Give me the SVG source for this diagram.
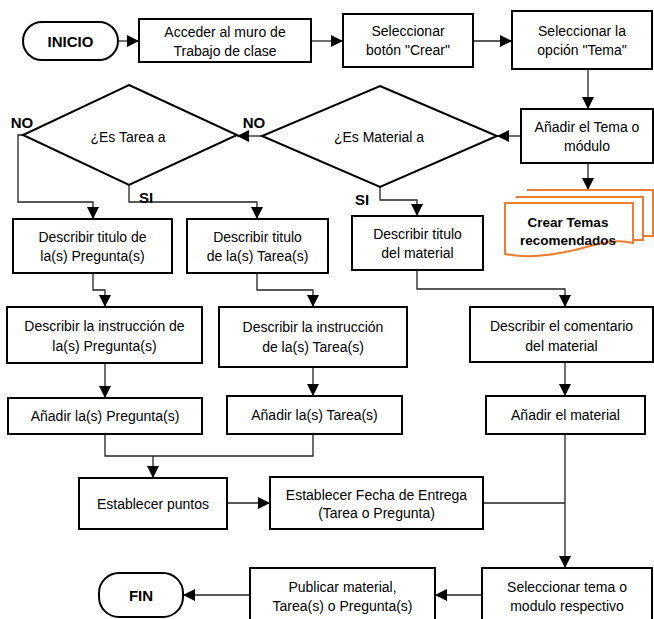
<svg xmlns="http://www.w3.org/2000/svg" width="654" height="619" viewBox="0 0 654 619">
<defs>
<marker id="ah" markerUnits="userSpaceOnUse" markerWidth="12" markerHeight="12" viewBox="0 0 10 10" refX="10" refY="5" orient="auto">
<path d="M0,0 L10,5 L0,10 Z" fill="#000"/>
</marker>
<style>
.box{fill:#fff;stroke:#000;stroke-width:2}
.doc{fill:#fff;stroke:#ED7D31;stroke-width:2}
.t{font-family:"Liberation Sans",Arial,sans-serif;font-size:14px;fill:#000;text-anchor:middle;dominant-baseline:central}
.b{font-weight:bold;font-size:13.5px}
.big{font-size:15px}
.c{fill:none;stroke:#222;stroke-width:1.3}
.a{marker-end:url(#ah)}
</style>
</defs>
<rect width="654" height="619" fill="#fff"/>
<g id="connectors">
<path class="c a" d="M118,41 H139"/>
<path class="c a" d="M311,41 H343"/>
<path class="c a" d="M473,41 H512"/>
<path class="c a" d="M588,69 V109"/>
<path class="c a" d="M521,136 H497"/>
<path class="c a" d="M262,136 H237"/>
<path class="c a" d="M23,135 H18 V202 H93 V219"/>
<path class="c a" d="M129,185 V202 H257 V219"/>
<path class="c a" d="M380,187 V200 H417 V216"/>
<path class="c a" d="M588,163 V190"/>
<path class="c a" d="M93,273 V290 H105 V307"/>
<path class="c a" d="M257,273 V290 H313 V307"/>
<path class="c a" d="M417,270 V289 H565 V307"/>
<path class="c a" d="M105,363 V398"/>
<path class="c a" d="M313,367 V396"/>
<path class="c a" d="M565,362 V396"/>
<path class="c" d="M105,434 V456 H313 V434"/>
<path class="c a" d="M153,456 V478"/>
<path class="c a" d="M227,503 H270"/>
<path class="c" d="M483,503 H565"/>
<path class="c a" d="M565,434 V568"/>
<path class="c a" d="M482,595 H435"/>
<path class="c a" d="M250,595 H183"/>
</g>
<g id="labels">
<text class="t b big" x="22" y="122">NO</text>
<text class="t b big" x="254" y="122">NO</text>
<text class="t b big" x="146" y="197">SI</text>
<text class="t b big" x="362" y="199">SI</text>
</g>
<g id="inicio">
<rect class="box" x="23" y="22" width="95" height="38" rx="19"/>
<text class="t b big" x="70.5" y="41">INICIO</text>
</g>
<g id="acceder">
<rect class="box" x="139" y="19" width="172" height="43"/>
<text class="t" x="225" y="31.5">Acceder al muro de</text>
<text class="t" x="225" y="50.5">Trabajo de clase</text>
</g>
<g id="crear">
<rect class="box" x="343" y="14" width="130" height="53"/>
<text class="t" x="408" y="31">Seleccionar</text>
<text class="t" x="408" y="50">botón "Crear"</text>
</g>
<g id="opcionTema">
<rect class="box" x="512" y="11" width="140" height="58"/>
<text class="t" x="582" y="31">Seleccionar la</text>
<text class="t" x="582" y="50">opción "Tema"</text>
</g>
<g id="anadirTema">
<rect class="box" x="521" y="109" width="132" height="54"/>
<text class="t" x="587" y="127">Añadir el Tema o</text>
<text class="t" x="587" y="146">módulo</text>
</g>
<g id="esMaterial">
<polygon class="box" points="380,86 497,136 380,187 262,136"/>
<text class="t" x="379" y="137">¿Es Material a</text>
</g>
<g id="esTarea">
<polygon class="box" points="129,85 237,135 129,185 23,135"/>
<text class="t" x="128" y="137">¿Es Tarea a</text>
</g>
<g id="crearTemas">
<path class="doc" d="M527,190 H653 V236 H643"/>
<path class="doc" d="M516,197 H643 V240 H633"/>
<path class="doc" d="M505,203 H633 V243 C610,237 592,247 570,251 C548,256 525,258 505,254 Z"/>
<text class="t b" x="568" y="222">Crear Temas</text>
<text class="t b" x="568" y="240">recomendados</text>
</g>
<g id="tituloPregunta">
<rect class="box" x="13" y="219" width="159" height="54"/>
<text class="t" x="92.5" y="236.5">Describir titulo de</text>
<text class="t" x="92.5" y="255.5">la(s) Pregunta(s)</text>
</g>
<g id="tituloTarea">
<rect class="box" x="187" y="219" width="141" height="54"/>
<text class="t" x="257.5" y="236.5">Describir titulo</text>
<text class="t" x="257.5" y="255.5">de la(s) Tarea(s)</text>
</g>
<g id="tituloMaterial">
<rect class="box" x="352" y="216" width="131" height="54"/>
<text class="t" x="417.5" y="234">Describir titulo</text>
<text class="t" x="417.5" y="253">del material</text>
</g>
<g id="instrPregunta">
<rect class="box" x="7" y="307" width="195" height="56"/>
<text class="t" x="104.5" y="326">Describir la instrucción de</text>
<text class="t" x="104.5" y="346">la(s) Pregunta(s)</text>
</g>
<g id="instrTarea">
<rect class="box" x="219" y="307" width="188" height="60"/>
<text class="t" x="313" y="327">Describir la instrucción</text>
<text class="t" x="313" y="347">de la(s) Tarea(s)</text>
</g>
<g id="comentario">
<rect class="box" x="470" y="307" width="183" height="55"/>
<text class="t" x="561.5" y="326">Describir el comentario</text>
<text class="t" x="561.5" y="346">del material</text>
</g>
<g id="anadirPregunta">
<rect class="box" x="8" y="398" width="194" height="36"/>
<text class="t" x="105" y="416">Añadir la(s) Pregunta(s)</text>
</g>
<g id="anadirTarea">
<rect class="box" x="227" y="396" width="175" height="38"/>
<text class="t" x="314.5" y="415">Añadir la(s) Tarea(s)</text>
</g>
<g id="anadirMaterial">
<rect class="box" x="486" y="396" width="159" height="38"/>
<text class="t" x="565.5" y="415">Añadir el material</text>
</g>
<g id="puntos">
<rect class="box" x="79" y="478" width="148" height="51"/>
<text class="t" x="153" y="503.5">Establecer puntos</text>
</g>
<g id="fecha">
<rect class="box" x="270" y="477" width="213" height="52"/>
<text class="t" x="376.5" y="495">Establecer Fecha de Entrega</text>
<text class="t" x="376.5" y="513">(Tarea o Pregunta)</text>
</g>
<g id="seleccionarTema">
<rect class="box" x="482" y="568" width="170" height="60"/>
<text class="t" x="567" y="587">Seleccionar tema o</text>
<text class="t" x="567" y="606">modulo respectivo</text>
</g>
<g id="publicar">
<rect class="box" x="250" y="568" width="185" height="60"/>
<text class="t" x="342.5" y="587">Publicar material,</text>
<text class="t" x="342.5" y="606">Tarea(s) o Pregunta(s)</text>
</g>
<g id="fin">
<rect class="box" x="99" y="573" width="84" height="44" rx="20"/>
<text class="t b big" x="141" y="595">FIN</text>
</g>
</svg>
